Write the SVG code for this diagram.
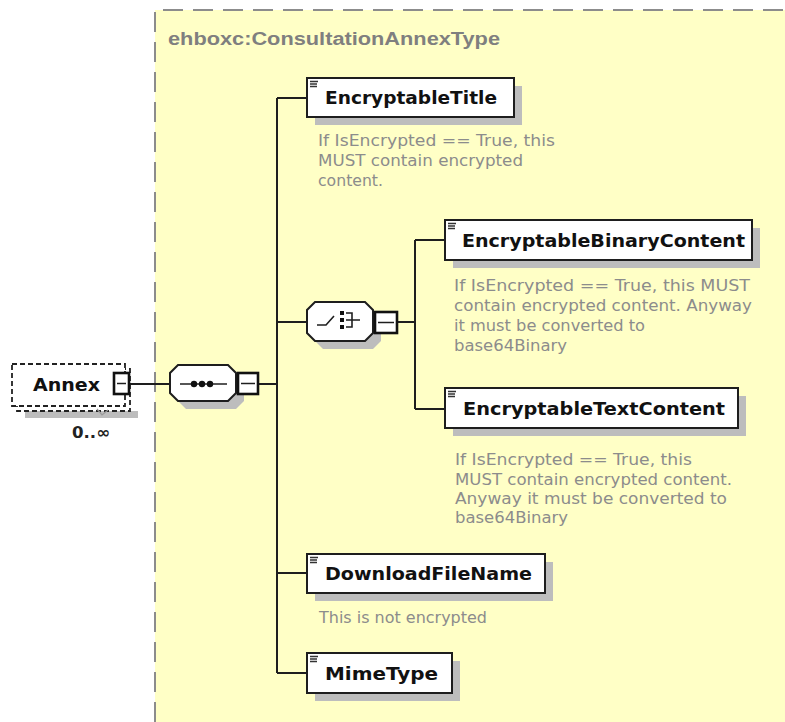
<svg xmlns="http://www.w3.org/2000/svg" width="785" height="722" viewBox="0 0 785 722">
<defs>
<style>
.bg{fill:#ffffc6}
.frame{fill:none;stroke:#8c8c8c;stroke-width:2;stroke-dasharray:20 10}
.box{fill:#ffffff;stroke:#1e1e1e;stroke-width:2}
.minus{fill:#ffffff;stroke:#111;stroke-width:2.6}
.shadow{fill:#bdbdbd}
.dash{fill:#ffffff;stroke:#222;stroke-width:1.8;stroke-dasharray:5 3}
.con{fill:none;stroke:#1e1e1e;stroke-width:2}
.name{font-family:"DejaVu Sans",Verdana,sans-serif;font-weight:bold;font-size:17px;fill:#111}
.doc{font-family:"DejaVu Sans",Verdana,sans-serif;font-size:15px;fill:#8c8c8c}
.title{font-family:"Liberation Sans",Arial,sans-serif;font-weight:bold;font-size:18px;fill:#7f7f7f}
.icon{stroke:#333;stroke-width:1.4}
</style>
</defs>
<rect x="0" y="0" width="785" height="722" fill="#ffffff"/>
<rect class="bg" x="155" y="10" width="630" height="712"/>
<path class="frame" d="M155,722 V10 H785"/>
<text class="title" x="168" y="45" textLength="332" lengthAdjust="spacingAndGlyphs">ehboxc:ConsultationAnnexType</text>

<g id="connectors">
<path class="con" d="M129,384 H170"/>
<path class="con" d="M258,384 H277"/>
<path class="con" d="M277,98 V673"/>
<path class="con" d="M277,98 H307"/>
<path class="con" d="M277,322 H307"/>
<path class="con" d="M277,573 H307"/>
<path class="con" d="M277,673 H307"/>
<path class="con" d="M397,322 H415"/>
<path class="con" d="M415,240 V409"/>
<path class="con" d="M415,240 H445"/>
<path class="con" d="M415,409 H445"/>
</g>

<g id="annex">
<rect class="shadow" x="25" y="411" width="113" height="7"/>
<rect class="dash" x="17" y="369" width="113" height="42"/>
<rect class="dash" x="12" y="364" width="113" height="42"/>
<text class="name" x="33" y="391" textLength="67" lengthAdjust="spacingAndGlyphs">Annex</text>
<rect class="minus" x="114" y="373" width="15" height="21"/>
<path d="M117,383.5 H126" stroke="#1e1e1e" stroke-width="1.5"/>
<path d="M97,409 L102,415 L108,410" fill="none" stroke="#999" stroke-width="1.2"/>
<text x="72" y="438" font-family="DejaVu Sans,Verdana,sans-serif" font-size="16" font-weight="bold" fill="#222" textLength="38" lengthAdjust="spacingAndGlyphs">0..∞</text>
</g>

<g id="sequence">
<polygon class="shadow" points="186,373 236,373 244,381 244,401 236,409 186,409 178,401 178,381"/>
<polygon class="box" points="178,365 228,365 236,373 236,393 228,401 178,401 170,393 170,373"/>
<path d="M180,384 H227" stroke="#1e1e1e" stroke-width="1.6"/>
<circle cx="194" cy="384" r="3.2" fill="#111"/>
<circle cx="202" cy="384" r="3.2" fill="#111"/>
<circle cx="210" cy="384" r="3.2" fill="#111"/>
<rect class="minus" x="238" y="373" width="20" height="21"/>
<path d="M241,383.5 H255" stroke="#1e1e1e" stroke-width="1.5"/>
</g>

<g id="choice">
<polygon class="shadow" points="323,310 373,310 381,318 381,341 373,349 323,349 315,341 315,318"/>
<polygon class="box" points="315,302 365,302 373,310 373,333 365,341 315,341 307,333 307,310"/>
<path d="M317,325 H326 L334,316" fill="none" stroke="#1e1e1e" stroke-width="1.6"/>
<rect x="340" y="311" width="4" height="4" fill="#111"/>
<rect x="340" y="318" width="4" height="4" fill="#111"/>
<rect x="340" y="325" width="4" height="4" fill="#111"/>
<path d="M346,313 H352 V327 H346 M346,320 H360" fill="none" stroke="#1e1e1e" stroke-width="1.6"/>
<rect class="minus" x="375" y="312" width="22" height="21"/>
<path d="M378,322.5 H394" stroke="#1e1e1e" stroke-width="1.5"/>
</g>

<g id="encryptableTitle">
<rect class="shadow" x="315" y="86" width="207" height="39"/>
<rect class="box" x="307" y="78" width="207" height="39"/>
<path class="icon" d="M310,81.5 H318 M310,84 H317 M310,86.5 H317"/>
<text class="name" x="325" y="104" textLength="172" lengthAdjust="spacingAndGlyphs">EncryptableTitle</text>
<text class="doc" x="318" y="146" textLength="237" lengthAdjust="spacingAndGlyphs">If IsEncrypted == True, this</text>
<text class="doc" x="318" y="166" textLength="205" lengthAdjust="spacingAndGlyphs">MUST contain encrypted</text>
<text class="doc" x="318" y="186" textLength="65" lengthAdjust="spacingAndGlyphs">content.</text>
</g>

<g id="encryptableBinaryContent">
<rect class="shadow" x="453" y="228" width="307" height="40"/>
<rect class="box" x="445" y="220" width="307" height="40"/>
<path class="icon" d="M448,223.5 H456 M448,226 H455 M448,228.5 H455"/>
<text class="name" x="462" y="247" textLength="283" lengthAdjust="spacingAndGlyphs">EncryptableBinaryContent</text>
<text class="doc" x="454" y="291" textLength="296" lengthAdjust="spacingAndGlyphs">If IsEncrypted == True, this MUST</text>
<text class="doc" x="454" y="311" textLength="298" lengthAdjust="spacingAndGlyphs">contain encrypted content. Anyway</text>
<text class="doc" x="454" y="331" textLength="191" lengthAdjust="spacingAndGlyphs">it must be converted to</text>
<text class="doc" x="454" y="351" textLength="113" lengthAdjust="spacingAndGlyphs">base64Binary</text>
</g>

<g id="encryptableTextContent">
<rect class="shadow" x="453" y="396" width="293" height="40"/>
<rect class="box" x="445" y="388" width="293" height="40"/>
<path class="icon" d="M448,391.5 H456 M448,394 H455 M448,396.5 H455"/>
<text class="name" x="463" y="415" textLength="262" lengthAdjust="spacingAndGlyphs">EncryptableTextContent</text>
<text class="doc" x="455" y="465" textLength="237" lengthAdjust="spacingAndGlyphs">If IsEncrypted == True, this</text>
<text class="doc" x="455" y="485" textLength="277" lengthAdjust="spacingAndGlyphs">MUST contain encrypted content.</text>
<text class="doc" x="455" y="504" textLength="272" lengthAdjust="spacingAndGlyphs">Anyway it must be converted to</text>
<text class="doc" x="455" y="523" textLength="113" lengthAdjust="spacingAndGlyphs">base64Binary</text>
</g>

<g id="downloadFileName">
<rect class="shadow" x="315" y="562" width="238" height="39"/>
<rect class="box" x="307" y="554" width="238" height="39"/>
<path class="icon" d="M310,557.5 H318 M310,560 H317 M310,562.5 H317"/>
<text class="name" x="325" y="580" textLength="207" lengthAdjust="spacingAndGlyphs">DownloadFileName</text>
<text class="doc" x="319" y="623" textLength="168" lengthAdjust="spacingAndGlyphs">This is not encrypted</text>
</g>

<g id="mimeType">
<rect class="shadow" x="315" y="661" width="145" height="40"/>
<rect class="box" x="307" y="653" width="145" height="40"/>
<path class="icon" d="M310,656.5 H318 M310,659 H317 M310,661.5 H317"/>
<text class="name" x="325" y="680" textLength="113" lengthAdjust="spacingAndGlyphs">MimeType</text>
</g>
</svg>
